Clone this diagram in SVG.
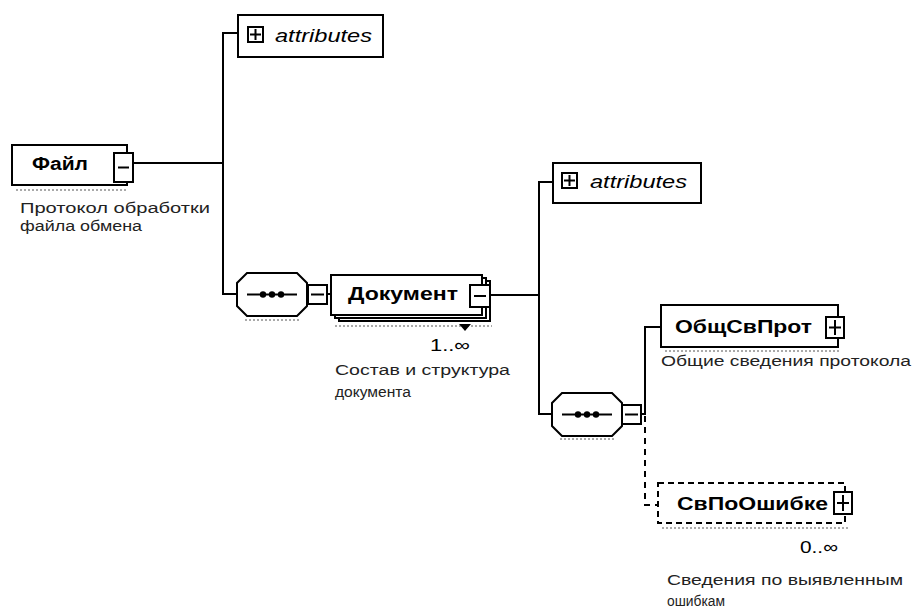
<svg xmlns="http://www.w3.org/2000/svg" width="916" height="614" viewBox="0 0 916 614">
<style>
.box{fill:#fff;stroke:#000;stroke-width:2}
.dbox{fill:#fff;stroke:#000;stroke-width:2;stroke-dasharray:6 4}
.btn{fill:#fff;stroke:#000;stroke-width:2}
.sym{stroke:#000;stroke-width:2;fill:none}
.ln{stroke:#000;stroke-width:2;fill:none}
.dln{stroke:#000;stroke-width:2;fill:none;stroke-dasharray:6 5}
.shd{stroke:#555;stroke-width:1;stroke-dasharray:2 2;fill:none}
.name{font-family:"Liberation Sans",Arial,sans-serif;font-weight:bold;font-size:18px;fill:#000}
.attr{font-family:"Liberation Sans",Arial,sans-serif;font-style:italic;font-size:19px;fill:#000}
.desc{font-family:"Liberation Sans",Arial,sans-serif;font-size:14px;fill:#222}
.card{font-family:"Liberation Sans",Arial,sans-serif;font-size:17px;fill:#000}
</style>
<defs>
<g id="seq">
<path d="M10,0 H60 L70,10 V33 L60,43 H10 L0,33 V10 Z" class="box"/>
<line x1="10" y1="21.5" x2="60" y2="21.5" class="sym"/>
<circle cx="26" cy="21.5" r="3.2" fill="#000"/>
<circle cx="35" cy="21.5" r="3.2" fill="#000"/>
<circle cx="44" cy="21.5" r="3.2" fill="#000"/>
</g>
</defs>
<g id="connectors">
<path d="M133,163 H223" class="ln"/>
<path d="M238,33 H223 V294 H237" class="ln"/>
<path d="M327,294 H331" class="ln"/>
<path d="M490,295 H539" class="ln"/>
<path d="M553,182 H539 V414 H552" class="ln"/>
<path d="M641,414 H645 V327 H661" class="ln"/>
<path d="M645,416 V505 H658" class="dln"/>
</g>
<g id="node-file">
<rect x="12" y="145" width="115" height="40" class="box"/>
<line x1="16" y1="190" x2="128" y2="190" class="shd"/>
<text x="32" y="170" class="name" textLength="56" lengthAdjust="spacingAndGlyphs">Файл</text>
<rect x="114" y="153" width="19" height="29" class="btn"/>
<line x1="118" y1="167.5" x2="129" y2="167.5" class="sym"/>
<text x="20" y="213" class="desc" textLength="190" lengthAdjust="spacingAndGlyphs">Протокол обработки</text>
<text x="20" y="231" class="desc" textLength="122" lengthAdjust="spacingAndGlyphs">файла обмена</text>
</g>
<g id="node-attributes-1">
<rect x="238" y="15" width="145" height="42" class="box"/>
<rect x="248" y="27" width="15" height="15" class="btn"/>
<path d="M250,34.5 H261 M255.5,29 V40" class="sym"/>
<text x="275" y="42" class="attr" textLength="97" lengthAdjust="spacingAndGlyphs">attributes</text>
</g>
<g id="node-seq-1">
<use href="#seq" x="237" y="273"/>
<line x1="245" y1="320" x2="300" y2="320" class="shd"/>
<rect x="308" y="285" width="19" height="19" class="btn"/>
<line x1="311" y1="294.5" x2="324" y2="294.5" class="sym"/>
</g>
<g id="node-document">
<rect x="339" y="281" width="151" height="40" class="box"/>
<rect x="335" y="278" width="151" height="40" class="box"/>
<rect x="331" y="275" width="151" height="40" class="box"/>
<line x1="335" y1="326" x2="492" y2="326" class="shd"/>
<text x="348" y="300" class="name" textLength="110" lengthAdjust="spacingAndGlyphs">Документ</text>
<rect x="470" y="285" width="20" height="22" class="btn"/>
<line x1="474" y1="296" x2="486" y2="296" class="sym"/>
<path d="M459,324 H471 L465,331 Z" fill="#000"/>
<text x="430" y="351" class="card" textLength="40" lengthAdjust="spacingAndGlyphs">1..∞</text>
<text x="335" y="375" class="desc" textLength="175" lengthAdjust="spacingAndGlyphs">Состав и структура</text>
<text x="335" y="397" class="desc" textLength="76" lengthAdjust="spacingAndGlyphs">документа</text>
</g>
<g id="node-attributes-2">
<rect x="553" y="163" width="148" height="40" class="box"/>
<rect x="562" y="173" width="15" height="15" class="btn"/>
<path d="M564,180.5 H575 M569.5,175 V186" class="sym"/>
<text x="590" y="188" class="attr" textLength="97" lengthAdjust="spacingAndGlyphs">attributes</text>
</g>
<g id="node-seq-2">
<use href="#seq" x="552" y="393"/>
<line x1="560" y1="439" x2="615" y2="439" class="shd"/>
<rect x="622" y="405" width="19" height="19" class="btn"/>
<line x1="625" y1="414.5" x2="638" y2="414.5" class="sym"/>
</g>
<g id="node-obsh">
<rect x="661" y="305" width="177" height="42" class="box"/>
<line x1="665" y1="351" x2="840" y2="351" class="shd"/>
<text x="675" y="333" class="name" textLength="137" lengthAdjust="spacingAndGlyphs">ОбщСвПрот</text>
<rect x="826" y="317" width="18" height="21" class="btn"/>
<path d="M829,327.5 H841 M835,320 V335" class="sym"/>
<text x="661" y="366" class="desc" textLength="250" lengthAdjust="spacingAndGlyphs">Общие сведения протокола</text>
</g>
<g id="node-error">
<rect x="658" y="483" width="187" height="40" class="dbox"/>
<line x1="662" y1="528" x2="848" y2="528" class="shd"/>
<text x="677" y="510" class="name" textLength="151" lengthAdjust="spacingAndGlyphs">СвПоОшибке</text>
<rect x="834" y="492" width="18" height="22" class="btn"/>
<path d="M837,503 H849 M843,495 V511" class="sym"/>
<text x="800" y="553" class="card" textLength="38" lengthAdjust="spacingAndGlyphs">0..∞</text>
<text x="667" y="585" class="desc" textLength="236" lengthAdjust="spacingAndGlyphs">Сведения по выявленным</text>
<text x="667" y="606" class="desc" textLength="58" lengthAdjust="spacingAndGlyphs">ошибкам</text>
</g>
</svg>
